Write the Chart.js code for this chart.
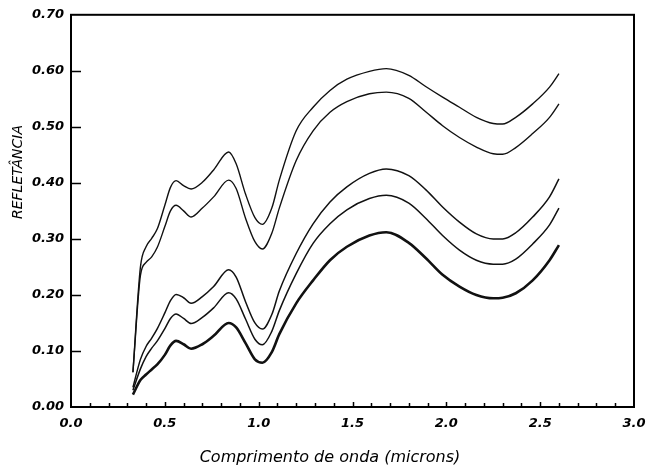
<!DOCTYPE html>
<html>
<head>
<meta charset="utf-8">
<title>Reflectância espectral</title>
<script src="https://cdn.jsdelivr.net/npm/chart.js@4/dist/chart.umd.min.js"></script>
<style>
  body { margin: 0; background: #fff; }
  #wrap { width: 647px; height: 470px; position: relative; }
</style>
</head>
<body>
<div id="wrap"><canvas id="reflChart"></canvas></div>
<script>
// comprimentos de onda (microns)
const wavelengths = [0.33, 0.37, 0.40, 0.43, 0.46, 0.50, 0.53, 0.56, 0.60, 0.64, 0.70, 0.76,
    0.84, 0.88, 0.93, 0.98, 1.02, 1.07, 1.11, 1.20, 1.29, 1.38, 1.47, 1.59,
    1.68, 1.80, 1.89, 1.98, 2.07, 2.16, 2.25, 2.30, 2.37, 2.46, 2.55, 2.60];

// reflectância de cada curva, de cima para baixo
const curve1 = [0.062, 0.250, 0.286, 0.301, 0.318, 0.360, 0.392, 0.404, 0.395, 0.389, 0.401, 0.423,
    0.455, 0.434, 0.380, 0.338, 0.326, 0.355, 0.405, 0.493, 0.535, 0.565, 0.585, 0.599,
    0.604, 0.592, 0.572, 0.553, 0.535, 0.517, 0.506, 0.505, 0.517, 0.541, 0.571, 0.595];
const curve2 = [0.062, 0.235, 0.258, 0.268, 0.285, 0.322, 0.350, 0.360, 0.350, 0.339, 0.355, 0.375,
    0.405, 0.390, 0.337, 0.295, 0.282, 0.310, 0.355, 0.440, 0.493, 0.526, 0.545, 0.559,
    0.562, 0.551, 0.527, 0.502, 0.481, 0.464, 0.452, 0.451, 0.463, 0.488, 0.517, 0.541];
const curve3 = [0.035, 0.085, 0.108, 0.123, 0.140, 0.168, 0.190, 0.201, 0.195, 0.185, 0.197, 0.215,
    0.245, 0.232, 0.188, 0.150, 0.139, 0.165, 0.207, 0.274, 0.327, 0.366, 0.393, 0.417,
    0.425, 0.413, 0.388, 0.357, 0.330, 0.309, 0.300, 0.300, 0.311, 0.339, 0.375, 0.407];
const curve4 = [0.030, 0.068, 0.090, 0.105, 0.118, 0.140, 0.158, 0.166, 0.158, 0.149, 0.160, 0.177,
    0.204, 0.193, 0.157, 0.121, 0.111, 0.135, 0.172, 0.238, 0.292, 0.327, 0.352, 0.372,
    0.378, 0.364, 0.337, 0.306, 0.280, 0.262, 0.255, 0.255, 0.264, 0.291, 0.325, 0.355];
const curve5 = [0.022, 0.048, 0.058, 0.067, 0.076, 0.093, 0.110, 0.118, 0.112, 0.104, 0.112, 0.127,
    0.150, 0.142, 0.114, 0.085, 0.079, 0.098, 0.130, 0.185, 0.226, 0.262, 0.286, 0.306,
    0.312, 0.293, 0.266, 0.236, 0.215, 0.200, 0.194, 0.195, 0.203, 0.226, 0.262, 0.289];

const xTitle = 'Comprimento de onda (microns)';
const yTitle = 'REFLETÂNCIA';

function toPoints(values) {
    return values.map((v, i) => ({ x: wavelengths[i], y: v }));
}

function lineSet(values, width) {
    return {
        data: toPoints(values),
        borderColor: '#111',
        borderWidth: width,
        pointRadius: 0,
        fill: false,
        cubicInterpolationMode: 'monotone'
    };
}

// moldura, marcas internas e títulos dos eixos
const framePlugin = {
    id: 'frame',
    afterDraw(chart) {
        const ctx = chart.ctx;
        const area = chart.chartArea;
        const xs = chart.scales.x;
        const ys = chart.scales.y;
        ctx.save();
        ctx.strokeStyle = '#000';
        ctx.lineWidth = 2;
        ctx.strokeRect(area.left, area.top, area.right - area.left, area.bottom - area.top);

        ctx.lineWidth = 1.5;
        ctx.beginPath();
        for (let v = 1; v <= 6; v++) {
            const y = Math.round(ys.getPixelForValue(v / 10)) + 0.5;
            ctx.moveTo(area.left, y);
            ctx.lineTo(area.left + 10, y);
        }
        for (let v = 1; v < 30; v++) {
            const x = Math.round(xs.getPixelForValue(v / 10)) + 0.5;
            ctx.moveTo(x, area.bottom);
            ctx.lineTo(x, area.bottom - (v % 5 === 0 ? 5 : 4));
        }
        ctx.stroke();

        ctx.fillStyle = '#000';
        ctx.textAlign = 'center';
        ctx.textBaseline = 'middle';
        ctx.font = 'italic 16px "DejaVu Sans"';
        ctx.fillText(xTitle, 330, 458);

        ctx.translate(18, 172);
        ctx.rotate(-Math.PI / 2);
        ctx.font = 'italic 14px "DejaVu Sans"';
        ctx.fillText(yTitle, 0, 0);
        ctx.restore();
    }
};

const tickFont = { family: 'DejaVu Sans', size: 13, style: 'italic', weight: 'bold' };

new Chart(document.getElementById('reflChart'), {
    type: 'line',
    data: {
        datasets: [
            lineSet(curve1, 1.4),
            lineSet(curve2, 1.4),
            lineSet(curve3, 1.5),
            lineSet(curve4, 1.5),
            lineSet(curve5, 2.6)
        ]
    },
    options: {
        responsive: true,
        maintainAspectRatio: false,
        animation: false,
        layout: { padding: { top: 14, right: 0, left: 0, bottom: 0 } },
        plugins: {
            legend: { display: false },
            tooltip: { enabled: false }
        },
        scales: {
            x: {
                type: 'linear',
                min: 0,
                max: 3,
                afterFit(scale) {
                    scale.height = 63;
                    scale.paddingLeft = 0;
                    scale.paddingRight = 13;
                },
                grid: { display: false, drawTicks: false },
                border: { display: false },
                ticks: {
                    stepSize: 0.5,
                    padding: 9,
                    color: '#000',
                    font: tickFont,
                    callback: v => v.toFixed(1)
                }
            },
            y: {
                min: 0,
                max: 0.7,
                afterFit(scale) { scale.width = 71; },
                grid: { display: false, drawTicks: false },
                border: { display: false },
                ticks: {
                    stepSize: 0.1,
                    padding: 7,
                    color: '#000',
                    font: tickFont,
                    callback: v => v.toFixed(2)
                }
            }
        }
    },
    plugins: [framePlugin]
});
</script>
</body>
</html>
